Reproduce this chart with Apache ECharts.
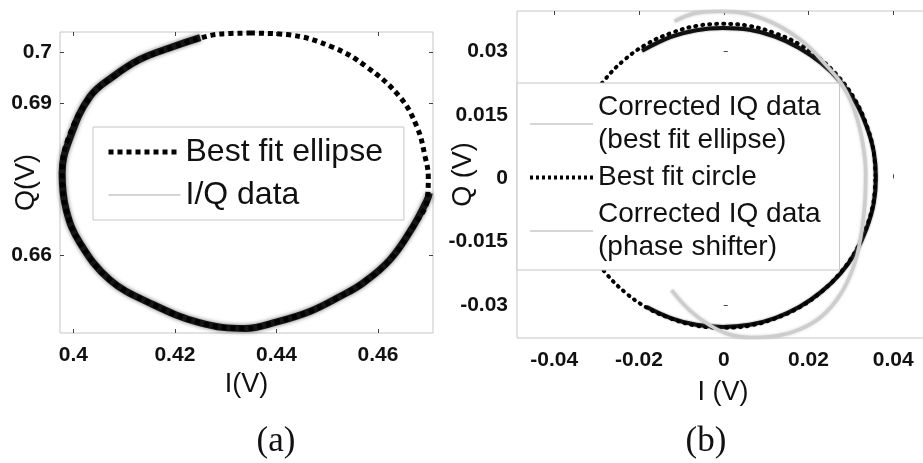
<!DOCTYPE html>
<html><head><meta charset="utf-8">
<script src="https://cdn.jsdelivr.net/npm/echarts@6/dist/echarts.min.js"></script>
<style>html,body{margin:0;padding:0;background:#fff}#c{width:923px;height:463px}</style>
</head><body><div id="c"></div><script>
// ---- tick labels ----
const leftTickI = [0.4, 0.42, 0.44, 0.46];
const leftTickQ = [0.66, 0.69, 0.7];
const rightTickI = [-0.04, -0.02, 0, 0.02, 0.04];
const rightTickQ = [-0.03, -0.015, 0, 0.015, 0.03];

// ---- panel (a): best fit ellipse (closed) ----
const ellipseI = [0.4348,0.4421,0.4511,0.4578,0.4643,0.4677,0.4693,0.4699,0.4697,0.4669,0.4624,0.4571,0.4525,0.4467,0.4401,0.4338,0.4250,0.4151,0.4072,0.4013,0.3986,0.3978,0.3990,0.4033,0.4078,0.4131,0.4196,0.4250,0.4289,0.4348];
const ellipseQ = [0.7038,0.7035,0.7010,0.6971,0.6912,0.6852,0.6793,0.6754,0.6709,0.6656,0.6591,0.6545,0.6518,0.6489,0.6468,0.6455,0.6466,0.6505,0.6551,0.6624,0.6689,0.6762,0.6830,0.6912,0.6951,0.6985,0.7010,0.7028,0.7036,0.7038];
// ---- panel (a): I/Q data ----
const iqI = [0.4250,0.4196,0.4131,0.4078,0.4033,0.3995,0.3978,0.3986,0.4013,0.4072,0.4151,0.4250,0.4338,0.4401,0.4467,0.4525,0.4571,0.4624,0.4669,0.4697,0.4701];
const iqQ = [0.7029,0.7011,0.6986,0.6952,0.6913,0.6835,0.6762,0.6689,0.6624,0.6551,0.6505,0.6466,0.6455,0.6468,0.6489,0.6518,0.6545,0.6591,0.6656,0.6709,0.6722];

// ---- panel (b): best fit circle (closed) ----
const circleI = [0.0358,0.0353,0.0336,0.0310,0.0274,0.0229,0.0178,0.0121,0.0061,-0.0002,-0.0065,-0.0125,-0.0182,-0.0233,-0.0278,-0.0314,-0.0340,-0.0357,-0.0362,-0.0357,-0.0340,-0.0314,-0.0278,-0.0233,-0.0182,-0.0125,-0.0065,-0.0002,0.0061,0.0121,0.0178,0.0229,0.0274,0.0310,0.0336,0.0353,0.0358];
const circleQ = [0.0006,0.0068,0.0129,0.0186,0.0237,0.0282,0.0318,0.0344,0.0361,0.0366,0.0361,0.0344,0.0318,0.0282,0.0237,0.0186,0.0129,0.0068,0.0006,-0.0057,-0.0117,-0.0174,-0.0225,-0.0270,-0.0306,-0.0332,-0.0349,-0.0354,-0.0349,-0.0332,-0.0306,-0.0270,-0.0225,-0.0174,-0.0117,-0.0057,0.0006];
// ---- panel (b): corrected IQ data (best fit ellipse) ----
const corrI = [-0.0193,-0.0125,-0.0065,-0.0002,0.0061,0.0121,0.0178,0.0229,0.0274,0.0311,0.0337,0.0354,0.0359,0.0354,0.0337,0.0311,0.0275,0.0230,0.0178,0.0121,0.0061,-0.0002,-0.0065,-0.0125,-0.0182];
const corrQ = [0.0302,0.0335,0.0351,0.0356,0.0352,0.0336,0.0309,0.0274,0.0231,0.0180,0.0123,0.0063,0.0002,-0.0059,-0.0119,-0.0175,-0.0226,-0.0269,-0.0305,-0.0331,-0.0347,-0.0352,-0.0347,-0.0331,-0.0305];
// ---- panel (b): corrected IQ data (phase shifter) ----
const phaseI = [-0.0123,-0.0080,-0.0033,0.0014,0.0061,0.0120,0.0179,0.0231,0.0274,0.0305,0.0323,0.0333,0.0335,0.0328,0.0311,0.0282,0.0238,0.0191,0.0132,0.0061,-0.0009,-0.0068,-0.0116];
const phaseQ = [-0.0265,-0.0313,-0.0348,-0.0370,-0.0377,-0.0374,-0.0358,-0.0327,-0.0277,-0.0213,-0.0142,-0.0059,0.0012,0.0083,0.0154,0.0218,0.0272,0.0320,0.0360,0.0388,0.0396,0.0391,0.0372];

const zip = (a, b) => a.map((v, i) => [v, b[i]]);
const FF = '"Liberation Sans", Arial, sans-serif';
const tickLbl = {fontFamily: FF, fontWeight: 'bold', fontSize: 21, color: '#111'};
const nameTS = {fontFamily: FF, fontSize: 27, color: '#111'};
const tick = vals => ({show: true, inside: true, length: 4, customValues: vals, lineStyle: {color: '#444', width: 1}});
const noSym = {color: 'rgba(0,0,0,0)', borderWidth: 0, opacity: 0};

function ax(o) {
  return Object.assign({type: 'value', scale: true, splitLine: {show: false}, axisLine: {show: false}, nameMoveOverlap: false}, o);
}

const chart = echarts.init(document.getElementById('c'), null, {renderer: 'canvas'});
chart.setOption({
  animation: false,
  backgroundColor: '#fff',
  grid: [
    {left: 60, top: 32, width: 373, height: 301, show: true, borderColor: '#c6c6c6', borderWidth: 1, backgroundColor: 'transparent', outerBoundsMode: 'none', containLabel: false},
    {left: 517, top: 11, width: 412, height: 327, show: true, borderColor: '#c6c6c6', borderWidth: 1, backgroundColor: 'transparent', outerBoundsMode: 'none', containLabel: false}
  ],
  xAxis: [
    ax({gridIndex: 0, position: 'bottom', min: 0.39738, max: 0.47083, axisTick: tick(leftTickI),
        axisLabel: {customValues: leftTickI, margin: 12, ...tickLbl},
        name: 'I(V)', nameLocation: 'middle', nameGap: 38, nameTextStyle: nameTS}),
    ax({gridIndex: 0, position: 'top', min: 0.39738, max: 0.47083, axisTick: tick(leftTickI), axisLabel: {show: false}}),
    ax({gridIndex: 1, position: 'bottom', min: -0.0488, max: 0.04844, axisTick: tick(rightTickI),
        axisLabel: {customValues: rightTickI, margin: 12, ...tickLbl},
        name: 'I (V)', nameLocation: 'middle', nameGap: 41, nameTextStyle: nameTS}),
    ax({gridIndex: 1, position: 'top', min: -0.0488, max: 0.04844, axisTick: tick(rightTickI), axisLabel: {show: false}})
  ],
  yAxis: [
    ax({gridIndex: 0, position: 'left', min: 0.6446, max: 0.70401, axisTick: tick(leftTickQ),
        axisLabel: {customValues: leftTickQ, margin: 8, ...tickLbl},
        name: 'Q(V)', nameLocation: 'middle', nameGap: 20, nameTextStyle: nameTS}),
    ax({gridIndex: 0, position: 'right', min: 0.6446, max: 0.70401, axisTick: tick(leftTickQ), axisLabel: {show: false}}),
    ax({gridIndex: 1, position: 'left', min: -0.03782, max: 0.03964, axisTick: tick(rightTickQ),
        axisLabel: {customValues: rightTickQ, margin: 9, ...tickLbl},
        name: 'Q (V)', nameLocation: 'middle', nameGap: 40, nameTextStyle: nameTS})
  ],
  legend: [
    {orient: 'vertical', left: 93, top: 127, padding: [7, 21, 7, 13], itemGap: 7, itemWidth: 72, itemHeight: 14,
     backgroundColor: '#fff', borderColor: '#c6c6c6', borderWidth: 1, selectedMode: false,
     textStyle: {fontFamily: FF, fontSize: 32, lineHeight: 36, color: '#111'},
     data: [
       {name: 'Best fit ellipse', itemStyle: noSym, lineStyle: {color: '#000', width: 5, type: [5, 4], cap: 'butt'}},
       {name: 'I/Q data', itemStyle: noSym, lineStyle: {color: '#c8c8c8', width: 1.5, type: 'solid'}}
     ]},
    {orient: 'vertical', left: 517, top: 83, padding: [8, 19, 6, 11], itemGap: 4, itemWidth: 63, itemHeight: 14,
     backgroundColor: '#fff', borderColor: '#c6c6c6', borderWidth: 1, selectedMode: false,
     textStyle: {fontFamily: FF, fontSize: 28, lineHeight: 33, color: '#111'},
     data: [
       {name: 'Corrected IQ data\n(best fit ellipse)', itemStyle: noSym, lineStyle: {color: '#c8c8c8', width: 1.5, type: 'solid'}},
       {name: 'Best fit circle', itemStyle: noSym, lineStyle: {color: '#000', width: 4, type: [3, 3], cap: 'butt'}},
       {name: 'Corrected IQ data\n(phase shifter)', itemStyle: noSym, lineStyle: {color: '#c8c8c8', width: 1.5, type: 'solid'}}
     ]}
  ],
  graphic: [
    {type: 'text', x: 276, y: 442, style: {text: '(a)', font: '35px "Liberation Serif", serif', fill: '#111', textAlign: 'center', textVerticalAlign: 'middle'}},
    {type: 'text', x: 706, y: 442, style: {text: '(b)', font: '35px "Liberation Serif", serif', fill: '#111', textAlign: 'center', textVerticalAlign: 'middle'}}
  ],
  series: [
    {name: 'I/Q data', type: 'line', xAxisIndex: 0, yAxisIndex: 0, data: zip(iqI, iqQ), symbol: 'none', smooth: 0.4, z: 2,
     lineStyle: {color: '#151515', width: 7, shadowBlur: 4, shadowColor: 'rgba(0,0,0,0.55)'}},
    {name: 'Best fit ellipse', type: 'line', xAxisIndex: 0, yAxisIndex: 0, data: zip(ellipseI, ellipseQ), symbol: 'none', smooth: 0.4, z: 3,
     lineStyle: {color: '#000', width: 5, type: [5, 4], cap: 'butt'}},
    {name: 'Corrected IQ data\n(best fit ellipse)', type: 'line', xAxisIndex: 2, yAxisIndex: 2, data: zip(corrI, corrQ), symbol: 'none', smooth: 0.4, z: 2,
     lineStyle: {color: '#111', width: 4, shadowBlur: 2, shadowColor: 'rgba(0,0,0,0.5)'}},
    {name: 'Best fit circle', type: 'line', xAxisIndex: 2, yAxisIndex: 2, data: zip(circleI, circleQ), symbol: 'none', smooth: 0.4, z: 3,
     lineStyle: {color: '#000', width: 4, type: [1, 6], cap: 'round'}},
    {name: 'Corrected IQ data\n(phase shifter)', type: 'line', xAxisIndex: 2, yAxisIndex: 2, data: zip(phaseI, phaseQ), symbol: 'none', smooth: 0.4, z: 4,
     lineStyle: {color: '#cdcdcd', width: 3.5, shadowBlur: 3, shadowColor: 'rgba(170,170,170,0.6)'}}
  ]
});
</script></body></html>
